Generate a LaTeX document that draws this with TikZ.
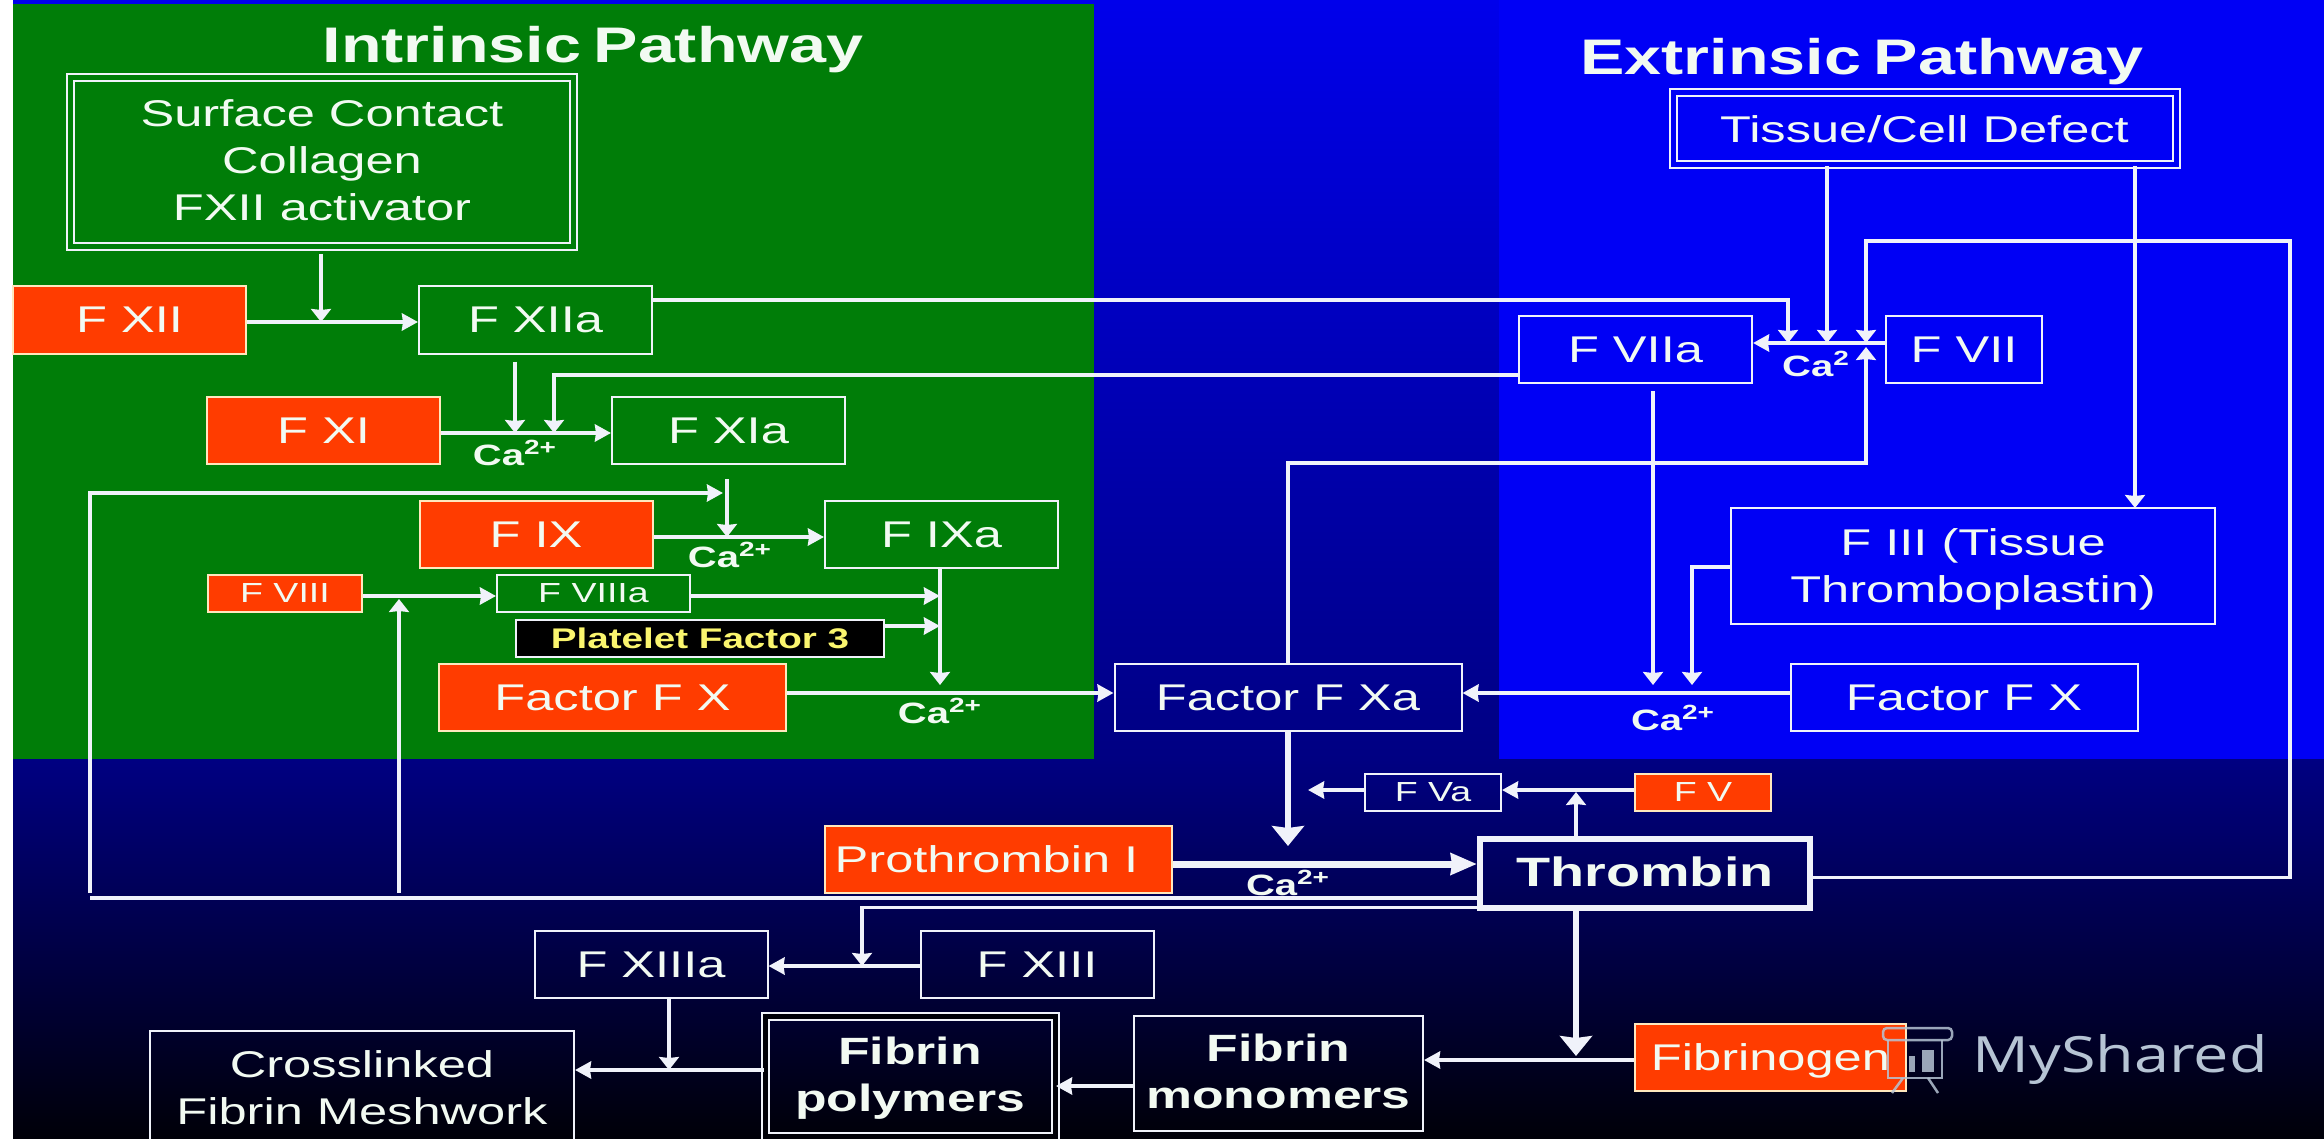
\documentclass[tikz,border=0pt]{standalone}
\usepackage{fontspec}
\setmainfont{Liberation Sans}[FakeStretch=1.36]
\newfontfamily\titlefont{Liberation Sans}[FakeStretch=1.33]
\newfontfamily\markfont{Open Sans}[FakeStretch=1.26]
\usepackage{xcolor}
\usepackage{tikz}
\usetikzlibrary{arrows.meta, calc}
\definecolor{topblue}{RGB}{0,0,235}
\definecolor{midblue}{RGB}{0,0,130}
\definecolor{endblue}{RGB}{0,0,8}
\definecolor{brightblue}{RGB}{0,0,245}
\definecolor{intgreen}{RGB}{0,125,8}
\definecolor{factorred}{RGB}{255,60,0}
\definecolor{linewhite}{RGB}{240,242,250}
\definecolor{textwhite}{RGB}{242,250,242}
\definecolor{markgrey}{RGB}{182,196,212}
\newcommand{\caion}{Ca\textsuperscript{2+}}
\tikzstyle{plainbox} = [draw=linewhite, line width=1pt, minimum width=116.5pt, minimum height=33.5pt, inner sep=0pt, text depth=0pt, text=textwhite, align=center, font=\fontsize{18.6}{23.5}\selectfont]
\tikzstyle{factorbox} = [plainbox, draw={rgb,255:red,255;green,232;blue,190}, fill=factorred]
\tikzstyle{widebox} = [minimum width=173.5pt]
\tikzstyle{smallbox} = [minimum width=68pt, minimum height=18.5pt, font=\fontsize{13.8}{13.8}\selectfont]
\tikzstyle{doublebox} = [plainbox, double distance=2.5pt]
\tikzstyle{boldbox} = [text depth=2pt, font=\bfseries\fontsize{19}{23.5}\selectfont]
\tikzstyle{pathtitle} = [inner sep=0pt, text depth=0pt, text=textwhite, font=\titlefont\bfseries\fontsize{25}{25}\selectfont]
\tikzstyle{calabel} = [inner sep=0pt, text=textwhite, font=\bfseries\fontsize{14.7}{14.7}\selectfont]
\tikzstyle{link} = [line width=2pt, color=linewhite]
\tikzstyle{arrow} = [link, line width=1.75pt, ->, >={Stealth[length=6.5pt,width=10pt,inset=0.5pt]}]
\tikzstyle{sidearrow} = [link, line width=2.25pt, ->, >={Stealth[length=8pt,width=8.5pt,inset=0.5pt]}]
\tikzstyle{thickarrow} = [link, line width=2.75pt, ->, >={Stealth[length=10pt,width=16pt,inset=1pt]}]
\tikzstyle{widearrow} = [link, line width=3.5pt, ->, >={Stealth[length=13pt,width=10.5pt,inset=0.5pt]}]
\begin{document}
\begin{tikzpicture}[x=0.5pt, y=-0.5pt]
    \useasboundingbox (0,0) rectangle (2324,1139);
    \fill [white] (0,0) rectangle (2324,1139);
    \shade [top color=topblue, bottom color=midblue] (13,0) rectangle (2324,759);
    \shade [top color=midblue, bottom color=endblue] (13,759) rectangle (2324,1139);
    \fill [brightblue] (1499,0) rectangle (2324,759);
    \fill [intgreen] (13,4) rectangle (1094,759);

    \node (intrinsic) [pathtitle] at (593,44) {Intrinsic\hspace{-3pt} Pathway};
    \node (extrinsic) [pathtitle] at (1862,56) {Extrinsic\hspace{-3pt} Pathway};

    \node (surface) [doublebox, double=intgreen, text depth=2pt, minimum width=251.5pt, minimum height=84.5pt] at (322,162.5) {Surface Contact\\Collagen\\FXII activator};
    \node (fxii) [factorbox] at (129.5,320) {F XII};
    \node (fxiia) [plainbox] at (535.5,320) {F XIIa};
    \node (fxi) [factorbox] at (323.5,430.5) {F XI};
    \node (fxia) [plainbox] at (728.5,430.5) {F XIa};
    \node (fix) [factorbox] at (536,534.5) {F IX};
    \node (fixa) [plainbox] at (941.5,534.5) {F IXa};
    \node (fviii) [factorbox, smallbox, minimum width=77pt] at (285,593.5) {F VIII};
    \node (fviiia) [plainbox, smallbox, minimum width=96.5pt] at (593.5,593.5) {F VIIIa};
    \node (pf3) [plainbox, fill=black, text={rgb,255:red,250;green,245;blue,110}, minimum width=184pt, minimum height=18.5pt, font=\bfseries\fontsize{14.2}{14.2}\selectfont] at (700,638) {Platelet Factor 3};
    \node (fxl) [factorbox, widebox] at (612.5,697.5) {Factor F X};

    \node (tissue) [doublebox, double=brightblue, minimum width=251.5pt, minimum height=36pt] at (1924.5,129) {Tissue/Cell Defect};
    \node (fviia) [plainbox] at (1635.5,349.5) {F VIIa};
    \node (fvii) [plainbox, minimum width=78pt] at (1964,349.5) {F VII};
    \node (fiii) [plainbox, minimum width=242pt, minimum height=58pt] at (1973,566) {F III (Tissue\\Thromboplastin)};
    \node (fxr) [plainbox, widebox] at (1964,697.5) {Factor F X};
    \node (fxa) [plainbox, widebox] at (1288,697.5) {Factor F Xa};

    \node (fva) [plainbox, smallbox] at (1433,792.5) {F Va};
    \node (fv) [factorbox, smallbox] at (1703,792.5) {F V};
    \node (pro) [factorbox, widebox] at (998.5,859.5) {Prothrombin I\hspace{12pt}};
    \node (thrombin) [plainbox, boldbox, line width=3pt, minimum width=165pt, minimum height=34.5pt, font=\bfseries\fontsize{20.5}{23.5}\selectfont] at (1645,873.5) {Thrombin};
    \node (fxiiia) [plainbox] at (651,964.5) {F XIIIa};
    \node (fxiii) [plainbox] at (1037,964.5) {F XIII};
    \node (mesh) [plainbox, minimum width=212pt, minimum height=57pt] at (362,1088) {Crosslinked\\Fibrin Meshwork};
    \node (polymers) [doublebox, boldbox, double=endblue, minimum width=145pt, minimum height=60pt] at (910,1076) {Fibrin\\polymers};
    \node (monomers) [plainbox, boldbox, minimum width=144.5pt, minimum height=57.5pt] at (1278.5,1073.5) {Fibrin\\monomers};
    \node (fibrinogen) [factorbox, minimum width=135.5pt] at (1770.5,1057) {Fibrinogen};

    \node (ca1) [calabel] at (515,453) {\caion};
    \node (ca2) [calabel] at (730,555) {\caion};
    \node (ca3) [calabel] at (940,711) {\caion};
    \node (ca4) [calabel] at (1673,718) {\caion};
    \node (ca5) [calabel] at (1288,883) {\caion};
    \node (ca6) [calabel] at (1816,364) {Ca\textsuperscript{2}};

    \coordinate (j1) at (321,322);
    \coordinate (j2) at (515,433);
    \coordinate (j3) at (554,433);
    \coordinate (j4) at (727,537);
    \coordinate (j5) at (723,493);
    \coordinate (j6) at (940,685);
    \coordinate (j7) at (1788,343);
    \coordinate (j8) at (1827,343);
    \coordinate (j9) at (1866,343);
    \coordinate (j10) at (1866,347);
    \coordinate (j11) at (2135,508);
    \coordinate (j12) at (1653,685);
    \coordinate (j13) at (1692,685);
    \coordinate (j14) at (1288,846);
    \coordinate (j15) at (1576,792);
    \coordinate (j16) at (1576,1056);
    \coordinate (j17) at (862,966);
    \coordinate (j18) at (669,1070);
    \coordinate (k1) at (2290,241);
    \coordinate (k2) at (1866,463);
    \coordinate (k3) at (90,898);
    \coordinate (k4) at (90,893);
    \coordinate (k5) at (399,893);
    \coordinate (k6) at (399,599);
    \coordinate (k7) at (1308,790);
    \coordinate (y1) at (0,693);
    \coordinate (y2) at (0,864);
    \coordinate (y3) at (0,626);
    \coordinate (y4) at (0,596);
    \coordinate (y5) at (0,1060);
    \coordinate (y6) at (0,1086);
    \coordinate (y7) at (0,567);

    \draw [arrow, shorten <=3pt] (j1 |- surface.south) -- (j1);
    \draw [sidearrow] (fxii.east |- j1) -- (fxiia.west |- j1);
    \draw [arrow] ([yshift=10pt]fxiia.east) -| (j7);
    \draw [arrow, shorten <=3.5pt] (j2 |- fxiia.south) -- (j2);
    \draw [arrow] ([yshift=-12.75pt]fviia.west) -| (j3);
    \draw [sidearrow] (fxi.east |- j2) -- (fxia.west |- j2);
    \draw [sidearrow, line width=1.75pt] (k4) |- (j5);
    \draw [arrow, shorten <=7pt] (j4 |- fxia.south) -- (j4);
    \draw [sidearrow] (fix.east |- j4) -- (fixa.west |- j4);
    \draw [sidearrow] (fviii.east |- y4) -- (fviiia.west |- y4);
    \draw [arrow] (k5) -- (k6);
    \draw [sidearrow] (fviiia.east |- y4) -- (j6 |- y4);
    \draw [sidearrow] (pf3.east |- y3) -- (j6 |- y3);
    \draw [arrow] (j6 |- fixa.south) -- (j6);
    \draw [sidearrow] (fxl.east |- y1) -- (fxa.west |- y1);

    \draw [sidearrow] (fvii.west |- j7) -- (fviia.east |- j7);
    \draw [arrow] (j8 |- tissue.south) -- (j8);
    \draw [arrow] (j11 |- tissue.south) -- (j11);
    \draw [arrow] ([yshift=-2pt]thrombin.east) -| (k1) -| (j9);
    \draw [arrow] (fxa.north) |- (k2) -- (j10);
    \draw [arrow, shorten <=3.5pt] (j12 |- fviia.south) -- (j12);
    \draw [arrow] (fiii.west |- y7) -| (j13);
    \draw [sidearrow] (fxr.west |- y1) -- (fxa.east |- y1);

    \draw [thickarrow] (fxa.south) -- (j14);
    \draw [sidearrow] (fv.west |- k7) -- (fva.east |- k7);
    \draw [sidearrow] (fva.west |- k7) -- (k7);
    \draw [arrow] (j15 |- thrombin.north) -- (j15);
    \draw [widearrow] (pro.east |- y2) -- (thrombin.west |- y2);
    \draw [link] ([yshift=-12.25pt]thrombin.west) -- (k3);
    \draw [arrow] ([yshift=-17pt]thrombin.west) -| (j17);
    \draw [sidearrow] (fxiii.west |- j17) -- (fxiiia.east |- j17);
    \draw [arrow] (j18 |- fxiiia.south) -- (j18);
    \draw [sidearrow] (polymers.west |- j18) -- (mesh.east |- j18);
    \draw [thickarrow] (j16 |- thrombin.south) -- (j16);
    \draw [sidearrow] (fibrinogen.west |- y5) -- (monomers.east |- y5);
    \draw [sidearrow] (monomers.west |- y6) -- (polymers.east |- y6);

    \node (myshared) [inner sep=0pt, text=markgrey, font=\markfont\fontsize{25}{25}\selectfont] at (2120,1060) {MyShared};
    \begin{scope}[draw=markgrey, line width=1.25pt, opacity=0.85]
        \draw [rounded corners=2pt] (1883,1028) rectangle (1952,1040);
        \draw (1888,1040) -- (1888,1078) -- (1942,1078) -- (1942,1040);
        \draw (1903,1078) -- (1892,1093);
        \draw (1928,1078) -- (1938,1093);
        \fill [markgrey] (1909,1056) rectangle (1915,1072);
        \fill [markgrey] (1922,1050) rectangle (1934,1072);
    \end{scope}
\end{tikzpicture}
\end{document}
